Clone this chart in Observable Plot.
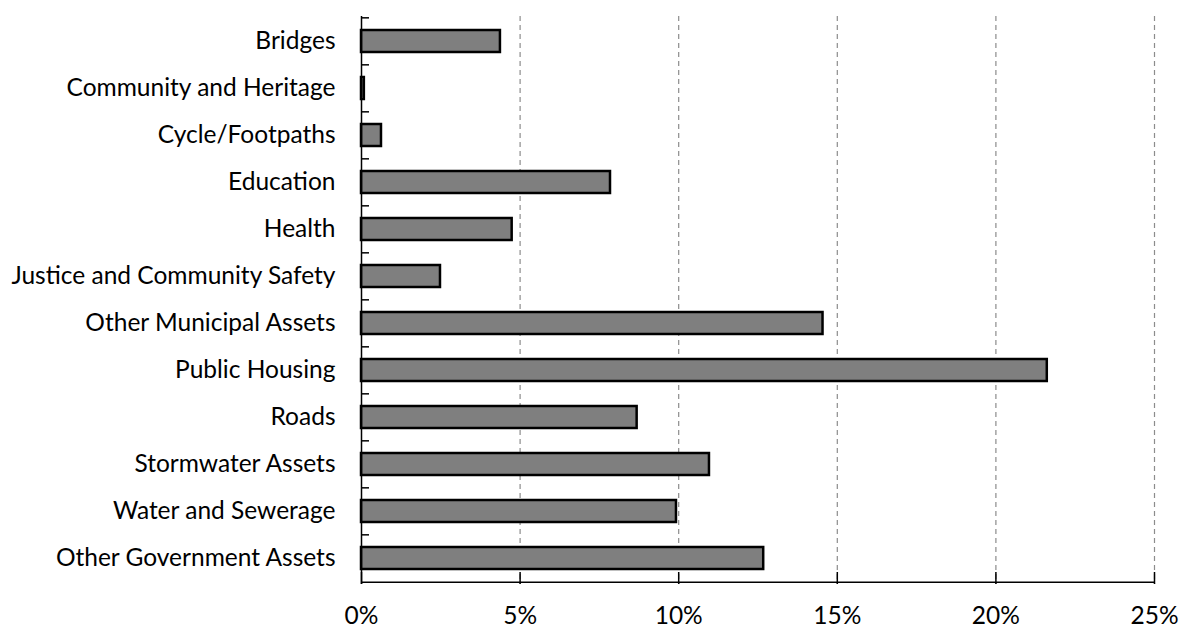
<!DOCTYPE html>
<html>
<head>
<meta charset="utf-8">
<script src="https://cdn.jsdelivr.net/npm/d3@7"></script>
<script src="https://cdn.jsdelivr.net/npm/@observablehq/plot@0.6"></script>
<style>
  html, body { margin: 0; padding: 0; background: #fff; }
  #chart svg { display: block; }
</style>
</head>
<body>
<div id="chart"></div>
<script>
// Share of total asset value by asset class (%)
const categories = [
  "Bridges",
  "Community and Heritage",
  "Cycle/Footpaths",
  "Education",
  "Health",
  "Justice and Community Safety",
  "Other Municipal Assets",
  "Public Housing",
  "Roads",
  "Stormwater Assets",
  "Water and Sewerage",
  "Other Government Assets"
];
const shares = [4.38, 0.09, 0.63, 7.85, 4.75, 2.49, 14.55, 21.62, 8.69, 10.97, 9.93, 12.68];
const xTicks = [0, 5, 10, 15, 20, 25];

const data = categories.map((category, i) => ({category, share: shares[i]}));

const W = 1181, H = 629;
const M = {top: 16, right: 27, bottom: 45, left: 361};
const plotW = W - M.left - M.right;
const plotH = H - M.top - M.bottom;
const step = plotH / categories.length;
const unitPx = plotW / (xTicks[xTicks.length - 1] - xTicks[0]);
const font = "Lato, 'Open Sans', sans-serif";

const chart = Plot.plot({
  width: W,
  height: H,
  marginTop: M.top,
  marginRight: M.right,
  marginBottom: M.bottom,
  marginLeft: M.left,
  style: {fontFamily: font, fontSize: "24.5px", color: "#000", background: "#fff"},
  x: {domain: [0, 25]},
  y: {domain: categories, paddingInner: 0.53, paddingOuter: 0.265},
  marks: [
    // dashed vertical gridlines
    Plot.ruleX(xTicks.filter(t => t > 0), {stroke: "#8c8c8c", strokeWidth: 1.2, strokeDasharray: "5,4"}),
    // bars
    Plot.barX(data, {x: "share", y: "category", fill: "#7f7f7f", stroke: "#000", strokeWidth: 2.5}),
    // y axis line
    Plot.ruleX([0], {stroke: "#000", strokeWidth: 1.5}),
    // category boundary ticks
    Plot.ruleY(categories, {y: d => d, x1: 0, x2: 8 / unitPx, dy: -step / 2, stroke: "#000", strokeWidth: 1.5}),
    // x axis line
    Plot.ruleY([categories[categories.length - 1]], {x1: 0, x2: 25, dy: step / 2, stroke: "#000", strokeWidth: 1.5}),
    // inward x ticks
    Plot.ruleX(xTicks, {insetTop: plotH - 12, stroke: "#000", strokeWidth: 1.5}),
    Plot.axisX({ticks: xTicks, tickFormat: d => d + "%", tickSize: 0, tickPadding: 22, fill: "#000", label: null}),
    Plot.axisY({tickSize: 0, tickPadding: 26, fill: "#000", label: null})
  ]
});

document.getElementById("chart").appendChild(chart);
</script>
</body>
</html>
